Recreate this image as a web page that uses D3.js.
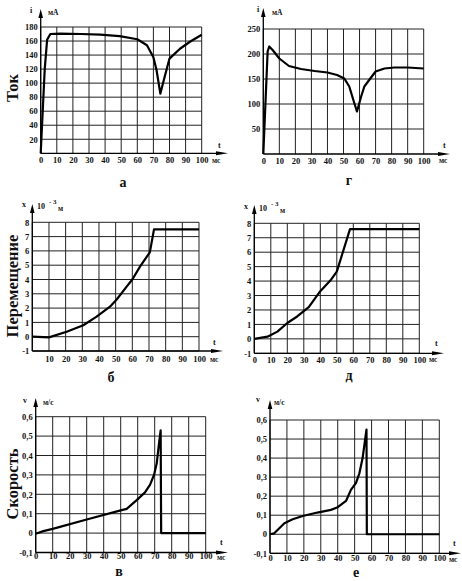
<!DOCTYPE html>
<html>
<head>
<meta charset="utf-8">
<script src="https://cdn.jsdelivr.net/npm/d3@7"></script>
<style>
  body { margin: 0; background: #fff; }
  svg text { font-family: "Liberation Serif", "DejaVu Serif", serif; font-weight: bold; fill: #111; }
</style>
</head>
<body>
<div id="chart"></div>
<script>
// ---- data ----
// current, panel а
var tCurA = [0, 2.5, 4, 6, 12, 25, 37, 49, 60, 66, 70, 72, 74.3, 77, 80, 86.5, 92.7, 100];
var iCurA = [0, 120, 162, 170, 170.5, 170, 169, 167, 162.5, 154, 137, 118, 85, 109, 135, 149, 159, 169];
// current, panel г
var tCurG = [0, 2.7, 3.7, 5.8, 10, 16, 23.5, 32, 40, 46, 50.5, 53.6, 56.8, 58.4, 61, 63, 66, 70, 75.5, 81.7, 90, 100];
var iCurG = [0, 205, 215, 208, 191, 176, 170, 166, 163, 158, 151, 135, 101, 85, 115, 135, 148, 165, 171, 173, 173, 171];
// displacement, panel б
var tDispB = [0, 10, 20.6, 30.6, 38.6, 46.6, 50.6, 56.6, 60, 64.6, 70.5, 73, 100];
var xDispB = [0, -0.05, 0.35, 0.8, 1.4, 2.1, 2.6, 3.5, 4.0, 4.9, 5.9, 7.5, 7.5];
// displacement, panel д
var tDispD = [0, 8, 14, 20, 26, 33, 40, 46.5, 50, 58, 100];
var xDispD = [0, 0.15, 0.5, 1.1, 1.55, 2.2, 3.3, 4.1, 4.65, 7.6, 7.6];
// velocity, panel в
var tVelV = [0, 4.5, 10, 30, 50, 53.5, 59.4, 64.3, 67.3, 69.6, 71.2, 72.5, 73.5, 73.8, 100];
var vVelV = [-0.003, 0.01, 0.022, 0.07, 0.117, 0.125, 0.17, 0.21, 0.25, 0.30, 0.36, 0.46, 0.53, 0, 0];
// velocity, panel е
var tVelE = [0, 2.5, 8.5, 13.4, 19.3, 28, 36, 40, 44.9, 47.8, 50.8, 52.8, 54.7, 57, 57.2, 100];
var vVelE = [0, 0.005, 0.058, 0.079, 0.096, 0.114, 0.128, 0.142, 0.175, 0.233, 0.27, 0.32, 0.4, 0.55, 0, 0];

// ticks
var tTicks = [0, 10, 20, 30, 40, 50, 60, 70, 80, 90, 100];
var tTicksNoZero = [10, 20, 30, 40, 50, 60, 70, 80, 90, 100];
var curTicksA = [20, 40, 60, 80, 100, 120, 140, 160, 180];
var curTicksG = [50, 100, 150, 200, 250];
var dispTicks = [-1, 0, 1, 2, 3, 4, 5, 6, 7, 8];
var velTicks = [-0.1, 0, 0.1, 0.2, 0.3, 0.4, 0.5, 0.6];
var sideLabels = ["Ток", "Перемещение", "Скорость"];
var panelLetters = ["а", "г", "б", "д", "в", "е"];

var loc = d3.formatLocale({decimal: ",", thousands: " ", grouping: [3], currency: ["", ""], minus: "-"});
var fmtInt = loc.format("d");
var fmtDec = function(d) { return d === 0 ? "0" : loc.format(".1f")(d); };

var svg = d3.select("#chart").append("svg")
  .attr("width", 462)
  .attr("height", 581);

// panel layout
var panels = [
  {t: tCurA, v: iCurA, left: 40.7, right: 201.7, top: 27, bottom: 153.3, yDom: [0, 180],
   yTicks: curTicksA, xTicks: tTicks, xGrid: tTicks, yGrid: curTicksA, fmt: fmtInt, xlDy: 10,
   yTip: 9, xTip: 228, name: "i", nameX: 30, nameY: 13, unit: "мА", unitX: 48, unitY: 15,
   tX: 218, tY: 148, msX: 212, msY: 163, letter: panelLetters[0], lx: 123, ly: 187},
  {t: tCurG, v: iCurG, left: 263.3, right: 423.7, top: 29, bottom: 154, yDom: [0, 250],
   yTicks: curTicksG, xTicks: tTicks, xGrid: tTicks, yGrid: curTicksG, fmt: fmtInt, xlDy: 10,
   yTip: 8, xTip: 450, name: "i", nameX: 257, nameY: 12, unit: "мА", unitX: 272, unitY: 15,
   tX: 443, tY: 148, msX: 439, msY: 163, letter: panelLetters[1], lx: 349, ly: 185},
  {t: tDispB, v: xDispB, left: 32.3, right: 199, top: 222.3, bottom: 351, yDom: [-1, 8],
   yTicks: dispTicks, xTicks: tTicksNoZero, xGrid: tTicks, yGrid: dispTicks, fmt: fmtInt, xlDy: 11,
   yTip: 204, xTip: 223, name: "x", nameX: 22, nameY: 207, unit: "м", unitX: 58, unitY: 211, exp: true, expX: 37, expY: 209,
   tX: 213, tY: 345, msX: 210, msY: 362, letter: panelLetters[2], lx: 111, ly: 382},
  {t: tDispD, v: xDispD, left: 254.3, right: 419.3, top: 223.3, bottom: 353.3, yDom: [-1, 8],
   yTicks: dispTicks, xTicks: tTicks, xGrid: tTicks, yGrid: dispTicks, fmt: fmtInt, xlDy: 10,
   yTip: 205, xTip: 444, name: "x", nameX: 244, nameY: 209, unit: "м", unitX: 280, unitY: 213, exp: true, expX: 259, expY: 211,
   tX: 435, tY: 346, msX: 429, msY: 362, letter: panelLetters[3], lx: 349, ly: 380},
  {t: tVelV, v: vVelV, left: 35.7, right: 205.7, top: 416.7, bottom: 552.5, yDom: [-0.1, 0.6],
   yTicks: velTicks, xTicks: tTicks, xGrid: tTicks, yGrid: velTicks, fmt: fmtDec, xlDy: 6,
   yTip: 398, xTip: 228, name: "v", nameX: 23, nameY: 403, unit: "м/с", unitX: 43, unitY: 405,
   tX: 220, tY: 545, msX: 217, msY: 560, letter: panelLetters[4], lx: 119, ly: 576},
  {t: tVelE, v: vVelE, left: 270, right: 439.3, top: 420, bottom: 553.3, yDom: [-0.1, 0.6],
   yTicks: velTicks, xTicks: tTicks, xGrid: tTicks, yGrid: velTicks, fmt: fmtDec, xlDy: 7.5,
   yTip: 400, xTip: 461, name: "v", nameX: 256, nameY: 402, unit: "м/с", unitX: 274, unitY: 405,
   tX: 453, tY: 546, msX: 449, msY: 562, letter: panelLetters[5], lx: 356, ly: 577}
];

panels.forEach(function(p) {
  var x = d3.scaleLinear().domain([0, 100]).range([p.left, p.right]);
  var y = d3.scaleLinear().domain(p.yDom).range([p.bottom, p.top]);
  var g = svg.append("g");

  // grid
  g.append("g").selectAll("line").data(p.xGrid).enter().append("line")
    .attr("x1", d => x(d)).attr("x2", d => x(d))
    .attr("y1", p.bottom).attr("y2", p.top)
    .attr("stroke", "#222").attr("stroke-width", 1);
  g.append("g").selectAll("line").data(p.yGrid).enter().append("line")
    .attr("x1", p.left).attr("x2", p.right)
    .attr("y1", d => y(d)).attr("y2", d => y(d))
    .attr("stroke", "#222").attr("stroke-width", 1);

  // y tick labels
  var leftAxis = d3.axisLeft(y).tickValues(p.yTicks).tickSize(0).tickPadding(3).tickFormat(p.fmt);
  var ya = g.append("g").attr("transform", `translate(${p.left},0)`).call(leftAxis)
    .attr("font-family", null).attr("font-size", null);
  ya.select(".domain").remove();
  ya.selectAll("text").style("font-size", "8.5px");

  // x tick labels
  var bottomAxis = d3.axisBottom(x).tickValues(p.xTicks).tickSize(0).tickPadding(0).tickFormat(fmtInt);
  var xa = g.append("g").attr("transform", `translate(0,${p.bottom})`).call(bottomAxis)
    .attr("font-family", null).attr("font-size", null);
  xa.select(".domain").remove();
  xa.selectAll("text").attr("dy", null).attr("y", p.xlDy).style("font-size", "8.5px");

  // axes with arrows
  g.append("line").attr("x1", p.left).attr("x2", p.left).attr("y1", p.bottom).attr("y2", p.yTip + 6)
    .attr("stroke", "#000").attr("stroke-width", 1.3);
  g.append("path")
    .attr("d", `M${p.left},${p.yTip} L${p.left - 2.3},${p.yTip + 9} L${p.left + 2.3},${p.yTip + 9} Z`)
    .attr("fill", "#000");
  g.append("line").attr("x1", p.left).attr("x2", p.xTip - 8).attr("y1", p.bottom).attr("y2", p.bottom)
    .attr("stroke", "#000").attr("stroke-width", 1.3);
  g.append("path")
    .attr("d", `M${p.xTip},${p.bottom} L${p.xTip - 12},${p.bottom - 2} L${p.xTip - 12},${p.bottom + 2} Z`)
    .attr("fill", "#000");

  // curve
  var pts = p.t.map((d, i) => [d, p.v[i]]);
  g.append("path").datum(pts)
    .attr("d", d3.line().x(d => x(d[0])).y(d => y(d[1])))
    .attr("fill", "none").attr("stroke", "#000").attr("stroke-width", 2.2)
    .attr("stroke-linejoin", "round");

  // axis names and units
  g.append("text").attr("x", p.nameX).attr("y", p.nameY).style("font-size", "8px").text(p.name);
  if (p.exp) {
    g.append("text").attr("x", p.expX).attr("y", p.expY).style("font-size", "8px").text("10");
    g.append("text").attr("x", p.expX + 12).attr("y", p.expY - 5).style("font-size", "7px").text("- 3");
  }
  g.append("text").attr("x", p.unitX).attr("y", p.unitY).style("font-size", "7.5px").text(p.unit);
  g.append("text").attr("x", p.tX).attr("y", p.tY).style("font-size", "8px").text("t");
  g.append("text").attr("x", p.msX).attr("y", p.msY).style("font-size", "7.5px").text("мс");

  // panel letter
  g.append("text").attr("x", p.lx).attr("y", p.ly).attr("text-anchor", "middle")
    .style("font-size", "14px").text(p.letter);
});

// row titles on the left
var sideY = [88, 286, 484];
sideLabels.forEach(function(s, i) {
  svg.append("text")
    .attr("transform", `translate(18,${sideY[i]}) rotate(-90)`)
    .attr("text-anchor", "middle")
    .style("font-size", "16.5px")
    .text(s);
});
</script>
</body>
</html>
